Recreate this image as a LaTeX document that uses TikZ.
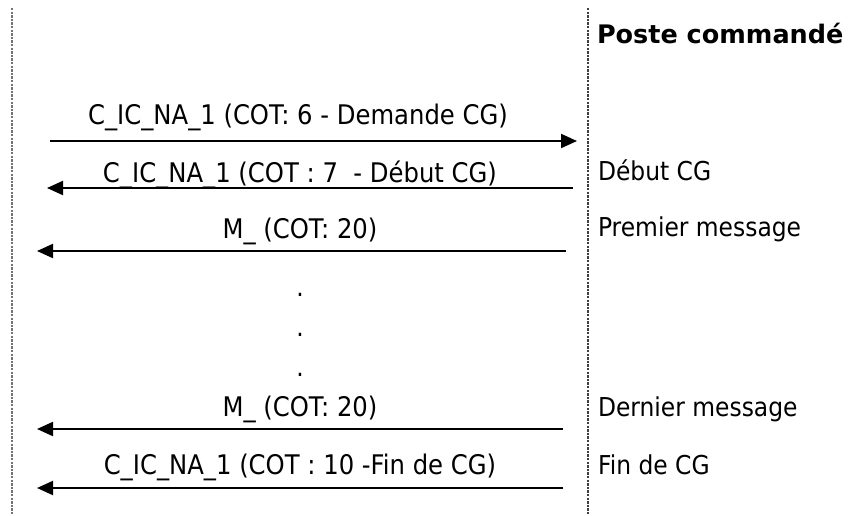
\documentclass[tikz,border=0pt]{standalone}
\usepackage{fontspec}
\setmainfont{DejaVu Sans}
\newfontfamily\narrowfont[FakeStretch=0.9]{DejaVu Sans}
\usetikzlibrary{arrows.meta}

\begin{document}
\begin{tikzpicture}[x=1pt,y=-1pt,inner sep=0pt,outer sep=0pt,
lifeline/.style={line width=2.2pt,dash pattern=on 2.4pt off 1.2pt},
msg/.style={line width=2pt,-{Triangle[length=16pt,width=14pt]}},
msgtext/.style={anchor=base,font=\narrowfont\fontsize{27}{31}\selectfont},
station/.style={anchor=base west,font=\narrowfont\fontsize{26}{30}\selectfont},
dot/.style={anchor=base,font=\narrowfont\fontsize{26}{30}\selectfont}]

\useasboundingbox (0,0) rectangle (856,515);

% lifelines
\coordinate (lt) at (12,8);
\coordinate (lb) at (12,515);
\coordinate (rt) at (588,8);
\coordinate (rb) at (588,515);
\draw[lifeline,black!55] (lt) -- (lb);
\draw[lifeline,line width=1.2pt,black!75] (rt) -- (rb);

\draw (597,43) node[station,font=\fontsize{25.5}{30}\selectfont\bfseries] (title) {Poste commandé};

% message ends
\coordinate (m1a) at (50,141);  \coordinate (m1b) at (577,141);
\coordinate (m2a) at (573,188); \coordinate (m2b) at (47,188);
\coordinate (m3a) at (566,251); \coordinate (m3b) at (37,251);
\coordinate (m4a) at (563,429); \coordinate (m4b) at (37,429);
\coordinate (m5a) at (563,488); \coordinate (m5b) at (37,488);

\draw (298,124) node[msgtext] (t1) {C\_IC\_NA\_1 (COT: 6 - Demande CG)};
\draw (300,182) node[msgtext] (t2) {C\_IC\_NA\_1 (COT : 7 \ - Début CG)};
\draw (300,238) node[msgtext] (t3) {M\_ (COT: 20)};
\draw (300,416) node[msgtext] (t4) {M\_ (COT: 20)};
\draw (300,474) node[msgtext] (t5) {C\_IC\_NA\_1 (COT : 10 -Fin de CG)};

\draw[msg] (m1a) -- (m1b);
\draw[msg] (m2a) -- (m2b);
\draw[msg] (m3a) -- (m3b);
\draw[msg] (m4a) -- (m4b);
\draw[msg] (m5a) -- (m5b);

% dots
\draw (300,296) node[dot] (d1) {.};
\draw (300,336) node[dot] (d2) {.};
\draw (300,376) node[dot] (d3) {.};

\draw (598,180) node[station] (s1) {Début CG};
\draw (598,236) node[station] (s2) {Premier message};
\draw (598,416) node[station] (s3) {Dernier message};
\draw (598,474) node[station] (s4) {Fin de CG};
\end{tikzpicture}
\end{document}
